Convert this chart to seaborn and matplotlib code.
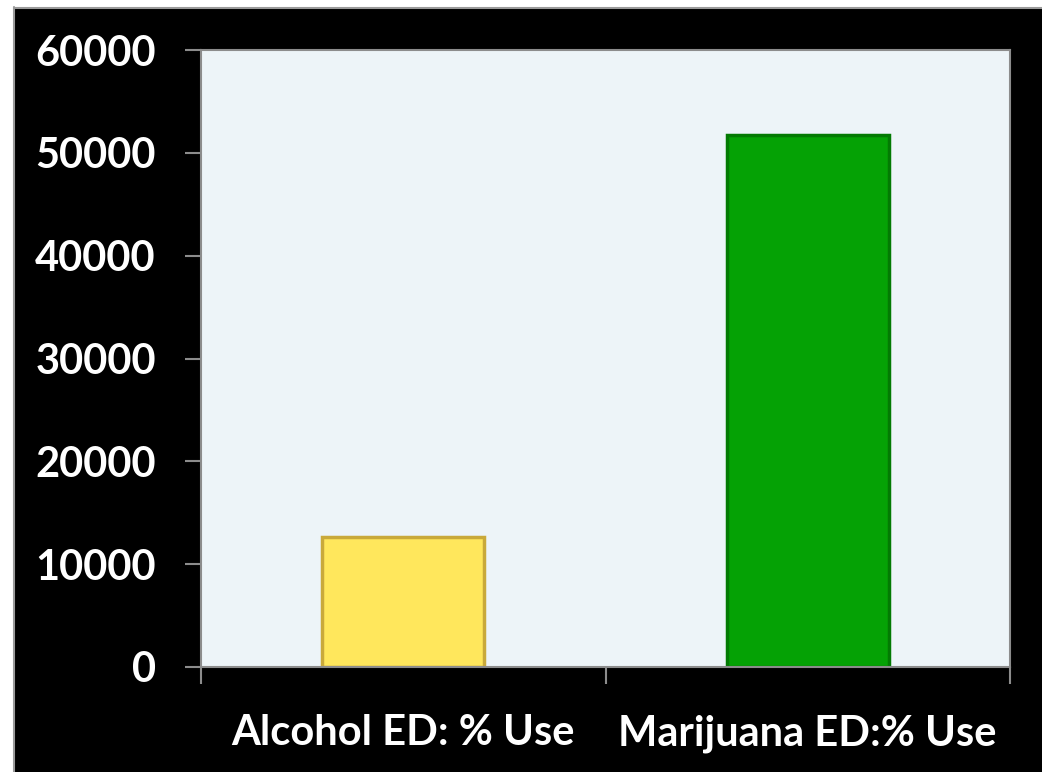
import matplotlib
matplotlib.use("Agg")
import matplotlib.pyplot as plt
from matplotlib.patches import Rectangle
from matplotlib.lines import Line2D
import seaborn as sns
import pandas as pd

categories = ["Alcohol ED: % Use", "Marijuana ED:% Use"]
values = [12600, 51700]
bar_colors = ["#FFE75C", "#05A205"]
edge_colors = ["#C9A93A", "#037A03"]
y_ticks = [0, 10000, 20000, 30000, 40000, 50000, 60000]

sns.set_theme(style="white")
plt.rcParams["font.family"] = ["Lato", "DejaVu Sans"]

fig = plt.figure(figsize=(10.42, 7.72), dpi=100)
fig.patch.set_facecolor("black")

# white page margin with a thin grey border along the top and left
fig.patches.append(Rectangle((0, 0), 13 / 1042, 1, transform=fig.transFigure,
                             facecolor="white", edgecolor="none", zorder=-2))
fig.patches.append(Rectangle((0, 1 - 7 / 772), 1, 7 / 772, transform=fig.transFigure,
                             facecolor="white", edgecolor="none", zorder=-2))
fig.lines.append(Line2D([13.5 / 1042, 13.5 / 1042], [0, 1 - 7 / 772],
                        transform=fig.transFigure, color="#9a9a9a", lw=1.5))
fig.lines.append(Line2D([13.5 / 1042, 1], [1 - 7.5 / 772, 1 - 7.5 / 772],
                        transform=fig.transFigure, color="#9a9a9a", lw=1.5))

ax = fig.add_axes([201 / 1042, 105 / 772, 809 / 1042, 617 / 772])
ax.set_facecolor("#EDF4F8")

df = pd.DataFrame({"category": categories, "value": values})
sns.barplot(data=df, x="category", y="value", hue="category",
            palette=bar_colors, width=0.4, legend=False, ax=ax,
            linewidth=2.5, saturation=1)
for patch, ec in zip(ax.patches, edge_colors):
    patch.set_edgecolor(ec)

ax.set_xlim(-0.5, 1.5)
ax.set_ylim(0, 60000)
ax.set_yticks(y_ticks)
ax.set_yticklabels([str(t) for t in y_ticks])
ax.set_xlabel("")
ax.set_ylabel("")

for side in ["top", "right", "left", "bottom"]:
    ax.spines[side].set_color("#8c8c8c")
    ax.spines[side].set_linewidth(1.5)

ax.tick_params(axis="y", which="major", direction="out", length=11.5, width=1.5,
               color="#8c8c8c", pad=21, labelsize=30, labelcolor="white", left=True)
ax.set_xticks([-0.5, 0.5, 1.5], minor=True)
ax.tick_params(axis="x", which="minor", direction="out", length=12, width=1.5,
               color="#8c8c8c", bottom=True)
ax.tick_params(axis="x", which="major", length=0, pad=34, labelsize=30,
               labelcolor="white")
for lbl in ax.get_xticklabels() + ax.get_yticklabels():
    lbl.set_fontweight("bold")

fig.savefig("out.png", dpi=100, facecolor=fig.get_facecolor())
